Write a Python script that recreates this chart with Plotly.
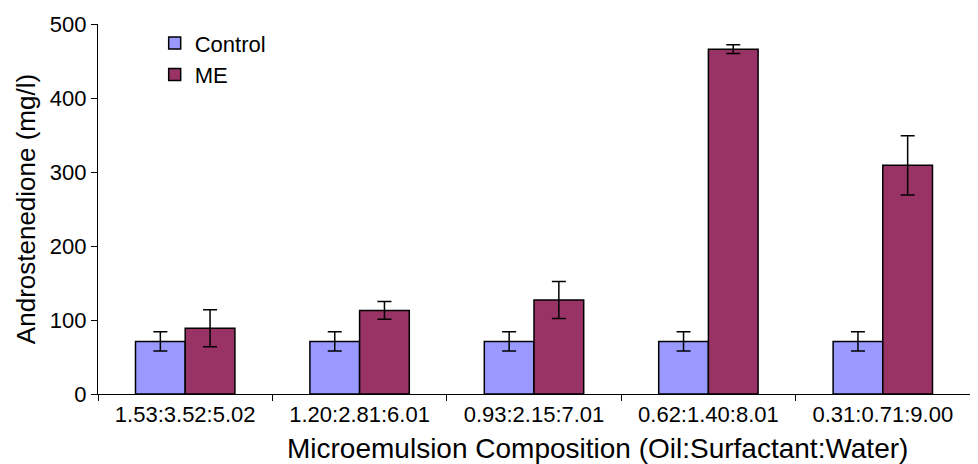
import plotly.graph_objects as go

categories = ["1.53:3.52:5.02", "1.20:2.81:6.01", "0.93:2.15:7.01", "0.62:1.40:8.01", "0.31:0.71:9.00"]
control_values = [71, 71, 71, 71, 71]
control_errors = [13, 13, 13, 13, 13]
me_values = [89, 113, 127, 466, 309]
me_errors = [25, 12, 25, 6, 40]

FONT = "Liberation Sans, Arial, Helvetica, sans-serif"

fig = go.Figure()
fig.add_trace(go.Bar(
    name="Control", x=categories, y=control_values,
    marker=dict(color="#9999FF", line=dict(color="black", width=1.5)),
    error_y=dict(type="data", array=control_errors, color="black", thickness=1.5, width=7),
))
fig.add_trace(go.Bar(
    name="ME", x=categories, y=me_values,
    marker=dict(color="#993366", line=dict(color="black", width=1.5)),
    error_y=dict(type="data", array=me_errors, color="black", thickness=1.5, width=7),
))

fig.add_annotation(
    text="Microemulsion Composition (Oil:Surfactant:Water)",
    xref="paper", yref="paper", x=0.573, y=0, xanchor="center", yanchor="middle",
    yshift=-54, showarrow=False, font=dict(size=28, family=FONT, color="black"),
)

fig.update_layout(
    width=970, height=456,
    margin=dict(l=90, r=8, t=16, b=70),
    paper_bgcolor="white", plot_bgcolor="white",
    barmode="group", bargap=0.43, bargroupgap=0,
    font=dict(family=FONT, color="black"),
    showlegend=True,
    legend=dict(x=0.065, y=1.005, xanchor="left", yanchor="top",
                font=dict(size=22, family=FONT), bgcolor="rgba(0,0,0,0)",
                itemwidth=30, tracegroupgap=0),
    xaxis=dict(
        type="category", tickson="boundaries", ticks="outside", ticklen=6,
        tickcolor="black", showline=True, linecolor="black", linewidth=1.3,
        tickfont=dict(size=22, family=FONT), showgrid=False,
        range=[-0.5, 4.5], automargin=False,
    ),
    yaxis=dict(
        range=[0, 500], tickvals=[0, 100, 200, 300, 400, 500],
        ticks="outside", ticklen=6, tickcolor="black",
        showline=True, linecolor="black", linewidth=1.3,
        tickfont=dict(size=22, family=FONT), showgrid=False, zeroline=False,
        automargin=False,
        title=dict(text="Androstenedione (mg/l)", font=dict(size=26, family=FONT), standoff=6),
    ),
)

fig.write_html("out.html")
